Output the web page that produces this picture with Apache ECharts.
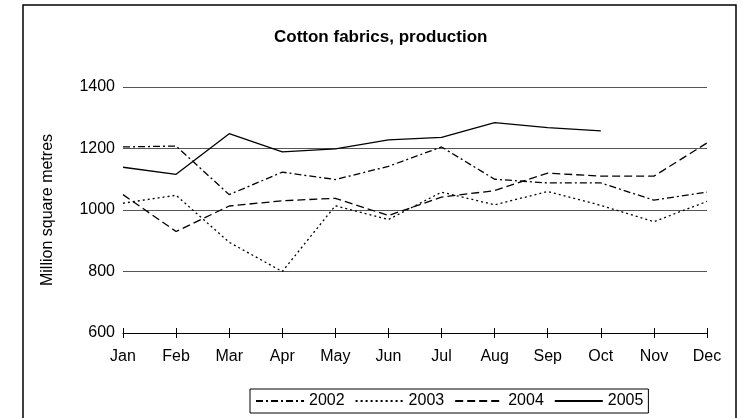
<!DOCTYPE html>
<html>
<head>
<meta charset="utf-8">
<script src="https://cdn.jsdelivr.net/npm/echarts@6/dist/echarts.min.js"></script>
<style>
html,body{margin:0;padding:0;background:#fff;}
#chart{width:743px;height:418px;}
</style>
</head>
<body>
<div id="chart"></div>
<script>
var months = ['Jan','Feb','Mar','Apr','May','Jun','Jul','Aug','Sep','Oct','Nov','Dec'];
var s2002 = [1205, 1208, 1050, 1123, 1099, 1142, 1205, 1100, 1088, 1088, 1032, 1058];
var s2003 = [1022, 1048, 895, 800, 1014, 969, 1058, 1017, 1060, 1015, 962, 1028];
var s2004 = [1050, 930, 1013, 1030, 1038, 982, 1042, 1063, 1120, 1110, 1110, 1218];
var s2005 = [1139, 1116, 1248, 1189, 1199, 1228, 1236, 1284, 1268, 1257, null, null];
var yMin = 600, yMax = 1400, yStep = 200;

var FONT = 'Liberation Sans, Arial, sans-serif';
function ser(name, data, type) {
  return {
    name: name, type: 'line', data: data, symbol: 'none', showSymbol: false,
    connectNulls: false, animation: false,
    itemStyle: { color: '#000' },
    lineStyle: { color: '#000', width: 1.3, type: type }
  };
}
var chart = echarts.init(document.getElementById('chart'));
chart.setOption({
  backgroundColor: '#fff',
  animation: false,
  color: ['#000', '#000', '#000', '#000'],
  title: {
    text: 'Cotton fabrics, production', left: 269, top: 24,
    textStyle: { fontFamily: FONT, fontSize: 17, fontWeight: 'bold', color: '#000' }
  },
  legend: {
    left: 250, top: 389, padding: [4, 5, 4, 5],
    borderColor: '#000', borderWidth: 1,
    itemWidth: 48, itemHeight: 14, itemGap: 10,
    itemStyle: { opacity: 0 },
    textStyle: { fontFamily: FONT, fontSize: 16, color: '#000' },
    data: ['2002', '2003', '2004', '2005']
  },
  grid: { left: 123, right: 36, top: 87, bottom: 85, containLabel: false },
  xAxis: [{
    type: 'category', data: months, boundaryGap: false,
    axisLine: { lineStyle: { color: '#000', width: 1 } },
    axisTick: { inside: true, length: 5, alignWithLabel: true, lineStyle: { color: '#000' } },
    axisLabel: { fontFamily: FONT, fontSize: 16, color: '#000', margin: 16, interval: 0 }
  }, {
    type: 'category', data: months, boundaryGap: false, position: 'bottom',
    axisLine: { show: false },
    axisTick: { inside: false, length: 5, lineStyle: { color: '#000' } },
    axisLabel: { show: false }
  }],
  yAxis: {
    type: 'value', min: yMin, max: yMax, interval: yStep,
    name: 'Million square metres', nameLocation: 'middle', nameGap: 67,
    nameTextStyle: { fontFamily: FONT, fontSize: 16, color: '#000' },
    axisLine: { show: false }, axisTick: { show: false },
    axisLabel: { fontFamily: FONT, fontSize: 16, color: '#000', margin: 8,
      formatter: function (v) { return String(v); } },
    splitLine: { lineStyle: { color: '#555', width: 1 } }
  },
  series: [
    ser('2002', s2002, [7, 3, 2, 3]),
    ser('2003', s2003, [2, 3]),
    ser('2004', s2004, [8, 4]),
    ser('2005', s2005, 'solid')
  ],
  graphic: [{
    type: 'rect', silent: true, z: 100,
    shape: { x: 23, y: 5, width: 713, height: 420 },
    style: { fill: null, stroke: '#000', lineWidth: 1.5 }
  }]
});
</script>
</body>
</html>
